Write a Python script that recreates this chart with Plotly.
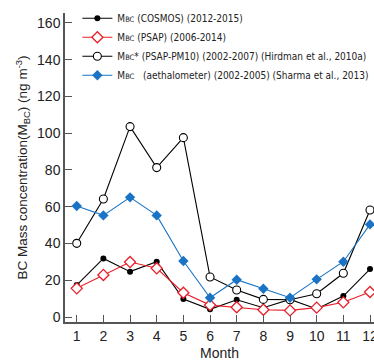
import plotly.graph_objects as go

months = list(range(1, 13))
month_labels = [str(m) for m in months]
cosmos = [17.4, 31.9, 24.7, 30.1, 9.8, 4.2, 9.4, 5.1, 9.6, 4.4, 11.4, 26.1]
psap = [15.6, 22.9, 29.9, 26.5, 13.2, 6.5, 5.3, 4.0, 3.6, 5.1, 8.0, 13.6]
hirdman = [40.1, 64.2, 103.6, 81.3, 97.6, 21.8, 14.7, 9.6, 9.4, 12.7, 23.8, 58.2]
sharma = [60.4, 55.3, 65.1, 55.3, 30.5, 10.5, 20.3, 15.4, 10.5, 20.5, 30.1, 50.4]
y_ticks = [0, 20, 40, 60, 80, 100, 120, 140, 160]

sc = "<span style='font-size:7.5px'>BC</span>"
names = [
    f"M{sc} (COSMOS) (2012-2015)",
    f"M{sc} (PSAP) (2006-2014)",
    f"M{sc}* (PSAP-PM10) (2002-2007) (Hirdman et al., 2010a)",
    f"M{sc}&nbsp;&nbsp; (aethalometer) (2002-2005) (Sharma et al., 2013)",
]

fig = go.Figure()
fig.add_trace(go.Scatter(x=months, y=cosmos, name=names[0], mode="lines+markers",
                         line=dict(color="black", width=1.1),
                         marker=dict(symbol="circle", size=6, color="black")))
fig.add_trace(go.Scatter(x=months, y=psap, name=names[1], mode="lines+markers",
                         line=dict(color="#e8202a", width=1.1),
                         marker=dict(symbol="diamond", size=8.5, color="white",
                                     line=dict(color="#e8202a", width=1.3))))
fig.add_trace(go.Scatter(x=months, y=hirdman, name=names[2], mode="lines+markers",
                         line=dict(color="black", width=1.1),
                         marker=dict(symbol="circle", size=8, color="white",
                                     line=dict(color="black", width=1.1))))
fig.add_trace(go.Scatter(x=months, y=sharma, name=names[3], mode="lines+markers",
                         line=dict(color="#1a73c4", width=1.1),
                         marker=dict(symbol="diamond", size=8, color="#1a73c4")))

fig.update_layout(
    width=374, height=361,
    margin=dict(l=65, r=0, t=13, b=39, autoexpand=False),
    plot_bgcolor="white", paper_bgcolor="white",
    font=dict(family="Liberation Sans, Arial, sans-serif", color="#222", size=14),
    showlegend=True,
    legend=dict(x=0.04, y=1.03, xanchor="left", yanchor="top",
                font=dict(family="DejaVu Sans Condensed, Liberation Sans Narrow, sans-serif", size=10, color="#222"),
                bgcolor="rgba(0,0,0,0)", itemwidth=30, tracegroupgap=0,
                traceorder="normal"),
)
fig.update_xaxes(range=[0.56, 12.15], tickmode="array", tickvals=months, ticktext=month_labels,
                 ticks="inside", ticklen=7, tickcolor="#555", showline=True, linecolor="#555",
                 linewidth=1.5, showgrid=False, zeroline=False, automargin=False,
                 ticklabeloverflow="allow",
                 title=dict(text="Month", font=dict(size=14), standoff=7),
                 tickfont=dict(size=14))
fig.update_yaxes(range=[-2.7, 165.4], tickmode="array", tickvals=y_ticks,
                 ticks="inside", ticklen=7, tickcolor="#555", showline=True, linecolor="#555",
                 linewidth=1.5, showgrid=False, zeroline=False, automargin=False,
                 title=dict(text="BC Mass concentration(M<sub>BC</sub>) (ng m<sup>-3</sup>)",
                            font=dict(size=13.5), standoff=6),
                 tickfont=dict(size=14))

fig.write_html("out.html", config={"displayModeBar": False},
               post_script="document.body.style.margin='0';document.body.style.overflow='hidden';")
